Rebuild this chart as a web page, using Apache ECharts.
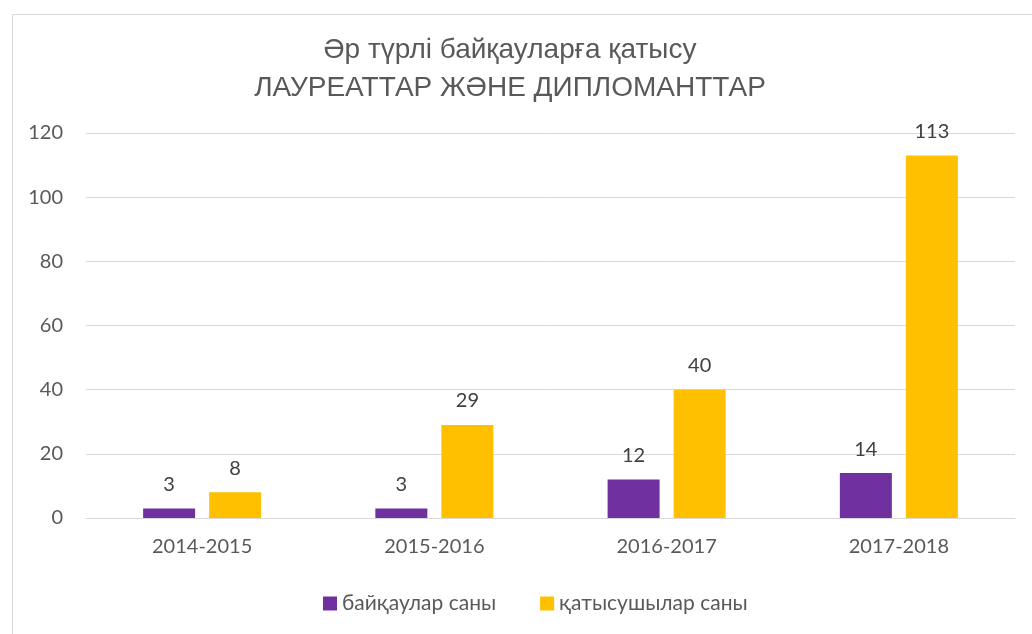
<!DOCTYPE html>
<html>
<head>
<meta charset="utf-8">
<script src="https://cdn.jsdelivr.net/npm/echarts@6/dist/echarts.min.js"></script>
<style>
  html, body { margin: 0; padding: 0; background: #fff; }
  #chart { width: 1032px; height: 634px; }
</style>
</head>
<body>
<div id="chart"></div>
<script>
var years = ['2014-2015', '2015-2016', '2016-2017', '2017-2018'];
var contests = [3, 3, 12, 14];        // байқаулар саны
var participants = [8, 29, 40, 113];  // қатысушылар саны
var yTicks = [0, 20, 40, 60, 80, 100, 120];

var labelFont = 'Lato, "Noto Sans", sans-serif';

var chart = echarts.init(document.getElementById('chart'));
chart.setOption({
    backgroundColor: '#fff',
    animation: false,
    graphic: [{
        type: 'rect',
        left: 10, top: 12,
        shape: { width: 1060, height: 660 },
        style: { fill: 'none', stroke: '#d9d9d9', lineWidth: 1 },
        silent: true
    }],
    title: {
        text: 'Әр түрлі байқауларға қатысу\nЛАУРЕАТТАР ЖӘНЕ ДИПЛОМАНТТАР',
        left: 505,
        textAlign: 'center',
        top: 26,
        textStyle: {
            fontFamily: '"Liberation Sans", Arial, sans-serif',
            fontWeight: 'normal',
            fontSize: 28,
            lineHeight: 38,
            color: '#595959'
        }
    },
    legend: {
        bottom: 15,
        left: 318,
        itemWidth: 14,
        itemHeight: 14,
        itemGap: 44,
        icon: 'rect',
        textStyle: { fontFamily: labelFont, fontSize: 21, color: '#595959' },
        data: ['байқаулар саны', 'қатысушылар саны']
    },
    grid: {
        left: 86,
        right: 17,
        top: 133,
        bottom: 116,
        containLabel: false
    },
    xAxis: {
        type: 'category',
        data: years,
        axisLine: { lineStyle: { color: '#d9d9d9', width: 1 } },
        axisTick: { show: false },
        axisLabel: { fontFamily: labelFont, fontSize: 20, color: '#595959', margin: 19 }
    },
    yAxis: {
        type: 'value',
        min: yTicks[0],
        max: yTicks[yTicks.length - 1],
        interval: 20,
        axisLine: { show: false },
        axisTick: { show: false },
        axisLabel: { fontFamily: labelFont, fontSize: 20, color: '#595959', margin: 23 },
        splitLine: { lineStyle: { color: '#d9d9d9', width: 1 } }
    },
    series: [
        {
            name: 'байқаулар саны',
            type: 'bar',
            data: contests,
            barWidth: 52,
            barGap: '27%',
            itemStyle: { color: '#7030a0' },
            label: {
                show: true, position: 'top', distance: 14,
                fontFamily: labelFont, fontSize: 20, color: '#404040'
            }
        },
        {
            name: 'қатысушылар саны',
            type: 'bar',
            data: participants,
            barWidth: 52,
            barGap: '27%',
            itemStyle: { color: '#ffc000' },
            label: {
                show: true, position: 'top', distance: 14,
                fontFamily: labelFont, fontSize: 20, color: '#404040'
            }
        }
    ]
});
</script>
</body>
</html>
